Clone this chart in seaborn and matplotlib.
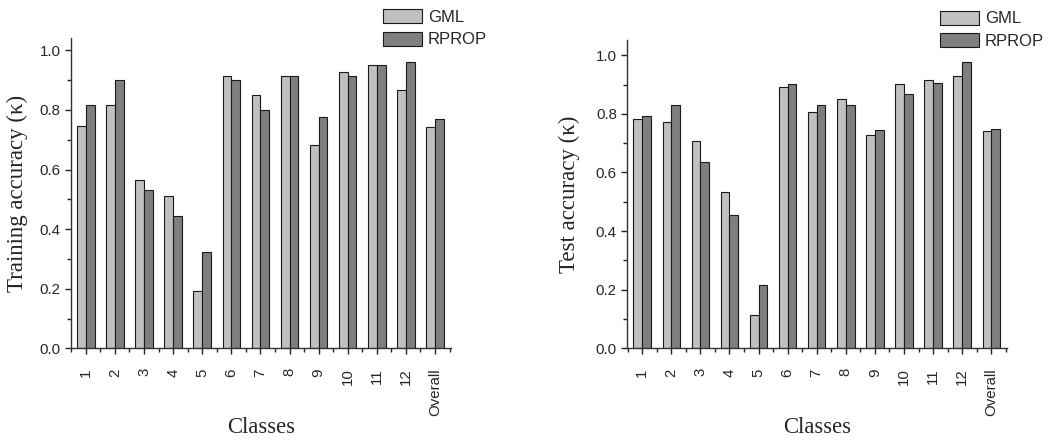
import matplotlib
matplotlib.use("Agg")
import matplotlib.pyplot as plt
from matplotlib.ticker import MultipleLocator, FixedLocator
import numpy as np
import pandas as pd
import seaborn as sns

# Per-class kappa accuracies for the two classifiers
classes = ["1", "2", "3", "4", "5", "6", "7", "8", "9", "10", "11", "12", "Overall"]
methods = ["GML", "RPROP"]

train_gml = [0.746, 0.818, 0.566, 0.511, 0.192, 0.915, 0.851, 0.914, 0.681, 0.926, 0.952, 0.868, 0.743]
train_rprop = [0.817, 0.902, 0.531, 0.443, 0.322, 0.902, 0.801, 0.914, 0.777, 0.915, 0.952, 0.962, 0.769]
test_gml = [0.783, 0.771, 0.707, 0.533, 0.115, 0.891, 0.805, 0.852, 0.729, 0.901, 0.916, 0.928, 0.742]
test_rprop = [0.794, 0.830, 0.637, 0.454, 0.216, 0.903, 0.829, 0.829, 0.744, 0.867, 0.904, 0.976, 0.747]

yticks = [0.0, 0.2, 0.4, 0.6, 0.8, 1.0]
ytick_labels = ["0.0", "0.2", "0.4", "0.6", "0.8", "1.0"]

colors = ["#c0c0c0", "#7f7f7f"]

sns.set_style("ticks")
plt.rcParams["font.family"] = ["Liberation Sans", "DejaVu Sans"]
plt.rcParams["axes.linewidth"] = 1.0


def long_frame(gml, rprop):
    return pd.DataFrame({
        "Class": classes * 2,
        "Accuracy": list(gml) + list(rprop),
        "Method": [methods[0]] * len(classes) + [methods[1]] * len(classes),
    })


fig = plt.figure(figsize=(10.57, 4.42), dpi=100)
ax_l = fig.add_axes([0.0669, 0.212, 0.3595, 0.701])
ax_r = fig.add_axes([0.5932, 0.212, 0.3595, 0.6975])

panels = [
    (ax_l, train_gml, train_rprop, "Training accuracy (\u03ba)", 1.04, 8,
     (383 / 1057, 1 - 9 / 442)),
    (ax_r, test_gml, test_rprop, "Test accuracy (\u03ba)", 1.052, 11,
     (939.7 / 1057, 1 - 10.5 / 442)),
]

for ax, gml, rprop, ylab, ytop, ypad, leg_anchor in panels:
    df = long_frame(gml, rprop)
    sns.barplot(data=df, x="Class", y="Accuracy", hue="Method",
                palette=colors, width=0.6, edgecolor="#1a1a1a",
                linewidth=0.8, saturation=1, ax=ax, legend=True)

    ax.set_xlim(-0.52, 12.54)
    ax.set_ylim(0, ytop)
    ax.set_yticks(yticks)
    ax.set_yticklabels(ytick_labels)
    ax.yaxis.set_minor_locator(MultipleLocator(0.1))
    ax.xaxis.set_minor_locator(FixedLocator(np.arange(-0.5, 13.0, 1.0)))
    ax.tick_params(axis="both", which="major", direction="out", length=4.3,
                   width=1.0, labelsize=10.8, color="#222222")
    ax.tick_params(axis="both", which="minor", direction="out", length=2.6,
                   width=1.0, color="#222222")
    ax.tick_params(axis="x", which="major", pad=10, labelrotation=90)
    ax.tick_params(axis="y", which="major", pad=3)

    for side in ("top", "right"):
        ax.spines[side].set_visible(False)
    for side in ("left", "bottom"):
        ax.spines[side].set_color("#333333")

    ax.set_xlabel("Classes", family=["Liberation Serif", "DejaVu Serif"],
                  fontsize=16.3, labelpad=1)
    ax.set_ylabel(ylab, family=["Liberation Serif", "DejaVu Serif"],
                  fontsize=16.5, labelpad=ypad)

    handles, labels = ax.get_legend_handles_labels()
    ax.legend(handles, labels, loc="upper left", bbox_to_anchor=leg_anchor,
              bbox_transform=fig.transFigure, frameon=False, borderpad=0,
              borderaxespad=0, fontsize=12, handlelength=2.35,
              handleheight=0.95, handletextpad=0.35, labelspacing=0.4)

fig.savefig("out.png", dpi=100)
